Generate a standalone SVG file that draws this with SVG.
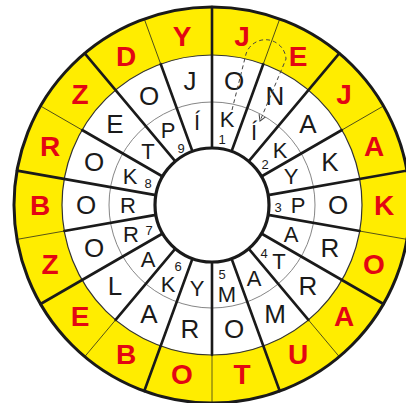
<svg xmlns="http://www.w3.org/2000/svg" width="406" height="403" viewBox="0 0 406 403">
<style>
.y{font-family:"Liberation Sans",Arial,sans-serif;font-weight:bold;font-size:28px;fill:#e30613;text-anchor:middle}
.o{font-family:"Liberation Sans",Arial,sans-serif;font-size:26px;fill:#1a1a1a;text-anchor:middle}
.i{font-family:"Liberation Sans",Arial,sans-serif;font-size:22px;fill:#1a1a1a;text-anchor:middle}
.n{font-family:"Liberation Sans",Arial,sans-serif;font-size:13px;fill:#1a1a1a;text-anchor:middle}
.tk{stroke:#1a1a1a;stroke-width:2.6;stroke-linecap:round}
.tn{stroke:#3a3a1a;stroke-width:0.8}
</style>
<defs>
<marker id="ah" markerWidth="8" markerHeight="8" refX="6" refY="4" orient="auto" markerUnits="userSpaceOnUse">
<path d="M0,0.5 L6,4 L0,7.5" fill="none" stroke="#444" stroke-width="1"/>
</marker>
</defs>
<rect width="406" height="403" fill="#fff"/>
<g id="wheel">
<circle cx="212" cy="205" r="198" fill="#ffed00"/>
<circle cx="212" cy="205" r="150" fill="#fff" stroke="#333" stroke-width="1.2"/>
<circle cx="212" cy="205" r="103" fill="none" stroke="#777" stroke-width="0.9"/>
<g id="spokes">
<line class="tk" x1="212" y1="148" x2="212" y2="7"/>
<line class="tk" x1="212" y1="148" x2="212" y2="55" transform="rotate(20 212 205)"/>
<line class="tn" x1="212" y1="55" x2="212" y2="7" transform="rotate(20 212 205)"/>
<line class="tk" x1="212" y1="148" x2="212" y2="7" transform="rotate(40 212 205)"/>
<line class="tk" x1="212" y1="148" x2="212" y2="55" transform="rotate(60 212 205)"/>
<line class="tn" x1="212" y1="55" x2="212" y2="7" transform="rotate(60 212 205)"/>
<line class="tk" x1="212" y1="148" x2="212" y2="7" transform="rotate(80 212 205)"/>
<line class="tk" x1="212" y1="148" x2="212" y2="55" transform="rotate(100 212 205)"/>
<line class="tn" x1="212" y1="55" x2="212" y2="7" transform="rotate(100 212 205)"/>
<line class="tk" x1="212" y1="148" x2="212" y2="7" transform="rotate(120 212 205)"/>
<line class="tk" x1="212" y1="148" x2="212" y2="55" transform="rotate(140 212 205)"/>
<line class="tn" x1="212" y1="55" x2="212" y2="7" transform="rotate(140 212 205)"/>
<line class="tk" x1="212" y1="148" x2="212" y2="7" transform="rotate(160 212 205)"/>
<line class="tk" x1="212" y1="148" x2="212" y2="55" transform="rotate(180 212 205)"/>
<line class="tn" x1="212" y1="55" x2="212" y2="7" transform="rotate(180 212 205)"/>
<line class="tk" x1="212" y1="148" x2="212" y2="7" transform="rotate(200 212 205)"/>
<line class="tk" x1="212" y1="148" x2="212" y2="55" transform="rotate(220 212 205)"/>
<line class="tn" x1="212" y1="55" x2="212" y2="7" transform="rotate(220 212 205)"/>
<line class="tk" x1="212" y1="148" x2="212" y2="7" transform="rotate(240 212 205)"/>
<line class="tk" x1="212" y1="148" x2="212" y2="55" transform="rotate(260 212 205)"/>
<line class="tn" x1="212" y1="55" x2="212" y2="7" transform="rotate(260 212 205)"/>
<line class="tk" x1="212" y1="148" x2="212" y2="7" transform="rotate(280 212 205)"/>
<line class="tk" x1="212" y1="148" x2="212" y2="55" transform="rotate(300 212 205)"/>
<line class="tn" x1="212" y1="55" x2="212" y2="7" transform="rotate(300 212 205)"/>
<line class="tk" x1="212" y1="148" x2="212" y2="7" transform="rotate(320 212 205)"/>
<line class="tk" x1="212" y1="148" x2="212" y2="55" transform="rotate(340 212 205)"/>
<line class="tn" x1="212" y1="55" x2="212" y2="7" transform="rotate(340 212 205)"/>
</g>
<circle cx="212" cy="205" r="198" fill="none" stroke="#1a1a1a" stroke-width="3"/>
<circle cx="212" cy="205" r="57" fill="#fff" stroke="#1a1a1a" stroke-width="3.2"/>
</g>
<g id="s1"><text class="y" x="242" y="46">J</text><text class="o" x="234" y="90">O</text><text class="i" x="227" y="127">K</text><text class="n" x="222" y="144">1</text></g>
<g id="s2"><text class="y" x="298" y="66">E</text><text class="o" x="275" y="105">N</text><text class="i" x="254" y="140">Í</text></g>
<g id="s3"><text class="y" x="344" y="104">J</text><text class="o" x="308" y="133">A</text><text class="i" x="280" y="158">K</text><text class="n" x="265" y="169">2</text></g>
<g id="s4"><text class="y" x="374" y="156">A</text><text class="o" x="330" y="171">K</text><text class="i" x="291" y="184">Y</text></g>
<g id="s5"><text class="y" x="384" y="215">K</text><text class="o" x="338" y="214">O</text><text class="i" x="298" y="213">P</text><text class="n" x="278" y="212">3</text></g>
<g id="s6"><text class="y" x="374" y="274">O</text><text class="o" x="330" y="257">R</text><text class="i" x="291" y="242">A</text></g>
<g id="s7"><text class="y" x="344" y="326">A</text><text class="o" x="308" y="295">R</text><text class="i" x="279" y="269">T</text><text class="n" x="264" y="258">4</text></g>
<g id="s8"><text class="y" x="298" y="364">U</text><text class="o" x="275" y="323">M</text><text class="i" x="254" y="286">A</text></g>
<g id="s9"><text class="y" x="242" y="384">T</text><text class="o" x="234" y="338">O</text><text class="i" x="227" y="302">M</text><text class="n" x="222" y="279">5</text></g>
<g id="s10"><text class="y" x="182" y="384">O</text><text class="o" x="190" y="338">R</text><text class="i" x="197" y="296">Y</text></g>
<g id="s11"><text class="y" x="126" y="364">B</text><text class="o" x="149" y="323">A</text><text class="i" x="168" y="292">K</text><text class="n" x="178" y="271">6</text></g>
<g id="s12"><text class="y" x="80" y="326">E</text><text class="o" x="115" y="295">L</text><text class="i" x="148" y="267">A</text></g>
<g id="s13"><text class="y" x="50" y="274">Z</text><text class="o" x="94" y="257">O</text><text class="i" x="131" y="242">R</text><text class="n" x="149" y="235">7</text></g>
<g id="s14"><text class="y" x="40" y="215">B</text><text class="o" x="86" y="214">O</text><text class="i" x="128" y="213">R</text></g>
<g id="s15"><text class="y" x="50" y="156">R</text><text class="o" x="94" y="171">O</text><text class="i" x="130" y="184">K</text><text class="n" x="148" y="188">8</text></g>
<g id="s16"><text class="y" x="80" y="104">Z</text><text class="o" x="115" y="133">E</text><text class="i" x="148" y="159">T</text></g>
<g id="s17"><text class="y" x="126" y="66">D</text><text class="o" x="149" y="105">O</text><text class="i" x="168" y="138">P</text><text class="n" x="181" y="153">9</text></g>
<g id="s18"><text class="y" x="182" y="46">Y</text><text class="o" x="190" y="90">J</text><text class="i" x="197" y="130">Í</text></g>
<g id="connectors">
<path d="M232,110 L246,54 A20.5,20.5 0 0 1 286,59 L260,121" fill="none" stroke="#444" stroke-width="1" stroke-dasharray="4,3" marker-end="url(#ah)"/>
</g>
</svg>
